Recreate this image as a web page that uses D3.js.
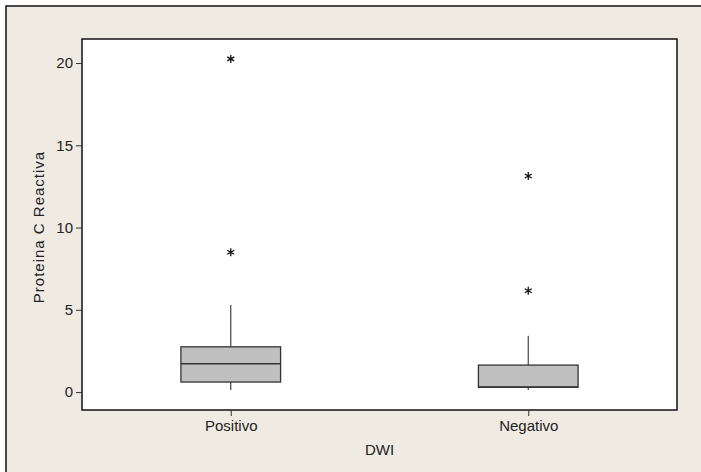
<!DOCTYPE html>
<html>
<head>
<meta charset="utf-8">
<script src="https://cdn.jsdelivr.net/npm/d3@7"></script>
<style>
  body { margin: 0; background: #fff; }
  text { font-family: "Liberation Sans", Arial, sans-serif; fill: #222; }
</style>
</head>
<body>
<svg id="chart" width="701" height="472"></svg>
<script>
// groups and box summaries
var categories = ["Positivo", "Negativo"];
var q1 = [0.61, 0.29];
var median = [1.72, 0.31];
var q3 = [2.75, 1.64];
var whiskerLow = [0.12, 0.12];
var whiskerHigh = [5.29, 3.42];
var outliers = [[20.25, 8.5], [13.13, 6.16]];
var yTicks = [0, 5, 10, 15, 20];

var margin = {top: 39, right: 24, bottom: 62, left: 82},
    W = 701, H = 472,
    width = W - margin.left - margin.right,
    height = H - margin.top - margin.bottom;

var svg = d3.select("#chart");

// beige frame
svg.append("rect")
  .attr("x", 6).attr("y", 6)
  .attr("width", W).attr("height", H)
  .attr("fill", "#efebe2");
svg.append("path")
  .attr("d", "M6," + H + "V6H" + W)
  .attr("fill", "none").attr("stroke", "#111").attr("stroke-width", 1.5);

var g = svg.append("g")
  .attr("transform", "translate(" + margin.left + "," + margin.top + ")");

// x uses group position 1..n
var x = d3.scaleLinear().domain([0.5, 2.5]).range([0, width]);
var y = d3.scaleLinear().domain([-1.09, 21.46]).range([height, 0]);

g.append("rect")
  .attr("width", width).attr("height", height)
  .attr("fill", "#fff").attr("stroke", "#111").attr("stroke-width", 1.5);

// axes
var yAxis = g.append("g")
  .call(d3.axisLeft(y).tickValues(yTicks).tickSize(6).tickPadding(3).tickFormat(d3.format("d")));
yAxis.select(".domain").remove();
yAxis.selectAll("line").attr("stroke", "#333");
yAxis.selectAll("text").style("font-size", "15px").attr("fill", "#222");

var xAxis = g.append("g")
  .attr("transform", "translate(0," + height + ")")
  .call(d3.axisBottom(x).tickValues([1, 2]).tickSize(6).tickPadding(4)
    .tickFormat(function(d) { return categories[d - 1]; }));
xAxis.select(".domain").remove();
xAxis.selectAll("line").attr("stroke", "#333");
xAxis.selectAll("text").style("font-size", "15px").attr("fill", "#222");

// axis titles
g.append("text")
  .attr("x", width / 2).attr("y", height + 45)
  .attr("text-anchor", "middle").style("font-size", "15px")
  .text("DWI");
g.append("text")
  .attr("transform", "translate(-38,188)rotate(-90)")
  .attr("text-anchor", "middle").style("font-size", "15px")
  .style("letter-spacing", "1px")
  .text("Proteina C Reactiva");

// boxes
var boxW = 0.335;
categories.forEach(function(c, i) {
  var cx = x(i + 1);
  g.append("line")
    .attr("x1", cx).attr("x2", cx)
    .attr("y1", y(whiskerHigh[i])).attr("y2", y(q3[i]))
    .attr("stroke", "#444").attr("stroke-width", 1.2);
  g.append("line")
    .attr("x1", cx).attr("x2", cx)
    .attr("y1", y(q1[i])).attr("y2", y(whiskerLow[i]))
    .attr("stroke", "#444").attr("stroke-width", 1.2);
  g.append("rect")
    .attr("x", x(i + 1 - boxW / 2))
    .attr("width", x(i + 1 + boxW / 2) - x(i + 1 - boxW / 2))
    .attr("y", y(q3[i]))
    .attr("height", y(q1[i]) - y(q3[i]))
    .attr("fill", "#c0c0c0").attr("stroke", "#333").attr("stroke-width", 1.3);
  g.append("line")
    .attr("x1", x(i + 1 - boxW / 2)).attr("x2", x(i + 1 + boxW / 2))
    .attr("y1", y(median[i])).attr("y2", y(median[i]))
    .attr("stroke", "#333").attr("stroke-width", 1.3);

  // outliers as asterisks
  var star = d3.symbol().type(d3.symbolAsterisk).size(45);
  g.selectAll(null)
    .data(outliers[i])
    .enter().append("path")
    .attr("d", star)
    .attr("transform", function(d) { return "translate(" + cx + "," + y(d) + ")"; })
    .attr("fill", "none").attr("stroke", "#111").attr("stroke-width", 1.3);
});
</script>
</body>
</html>
